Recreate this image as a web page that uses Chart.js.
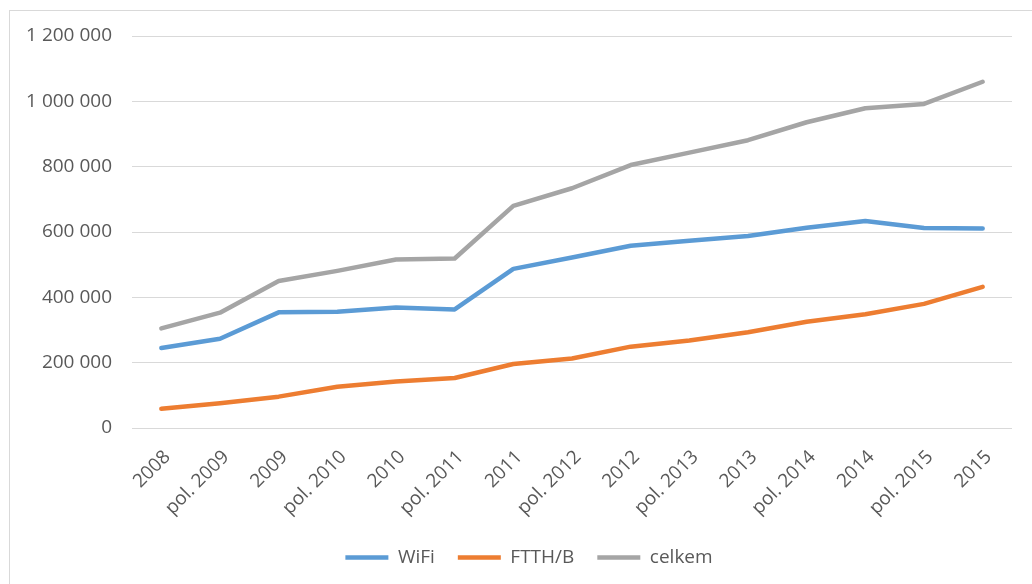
<!DOCTYPE html>
<html>
<head>
<meta charset="utf-8">
<script src="https://cdn.jsdelivr.net/npm/chart.js@4.4.1/dist/chart.umd.min.js"></script>
<style>
  body { margin: 0; background: #fff; }
  #wrap { position: relative; width: 1032px; height: 584px; overflow: hidden; }
  #frame { position: absolute; left: 9px; top: 10px; width: 1100px; height: 700px; border: 1px solid #d9d9d9; }
  #c { position: absolute; left: 0; top: 0; }
</style>
</head>
<body>
<div id="wrap">
  <div id="frame"></div>
  <canvas id="c" width="1032" height="584"></canvas>
</div>
<script>
// half-year and year-end points
const periods = ["2008", "pol. 2009", "2009", "pol. 2010", "2010", "pol. 2011", "2011", "pol. 2012",
                 "2012", "pol. 2013", "2013", "pol. 2014", "2014", "pol. 2015", "2015"];

const wifi = [245000, 273000, 354000, 356000, 369000, 363000, 487000, 522000,
              558000, 573000, 588000, 613000, 634000, 612000, 611000];
const ftth = [59000, 76000, 96000, 126000, 142000, 153000, 196000, 213000,
              249000, 268000, 293000, 325000, 348000, 380000, 432000];
const celkem = [305000, 353000, 450000, 481000, 516000, 519000, 680000, 734000,
                805000, 843000, 881000, 936000, 979000, 992000, 1060000];

const yMax = 1200000;
const yStep = 200000;

const textColor = "#595959";
const gridColor = "#d9d9d9";
const font = { family: "'Open Sans', sans-serif", size: 19 };

const plotLeft = 132;
const plotBottom = 428;
const padBottom = 7;
const legendShift = 23;

// 1 200 000 style thousands
function spaced(v) {
  return String(v).replace(/\B(?=(\d{3})+(?!\d))/g, " ");
}

function line(label, data, color) {
  return {
    label: label,
    data: data,
    borderColor: color,
    backgroundColor: color,
    borderWidth: 4.5,
    borderCapStyle: "round",
    borderJoinStyle: "round",
    pointRadius: 0,
    pointHoverRadius: 0,
    tension: 0,
    fill: false
  };
}

// centre the legend under the plot rather than the whole canvas
const legendNudge = {
  id: "legendNudge",
  afterLayout(chart) {
    if (chart.legend) {
      chart.legend.left += legendShift;
      chart.legend.right += legendShift;
    }
  }
};

new Chart(document.getElementById("c"), {
  type: "line",
  data: {
    labels: periods,
    datasets: [
      line("WiFi", wifi, "#5b9bd5"),
      line("FTTH/B", ftth, "#ed7d31"),
      line("celkem", celkem, "#a5a5a5")
    ]
  },
  plugins: [legendNudge],
  options: {
    responsive: false,
    animation: false,
    layout: { padding: { top: 36, right: 20, bottom: padBottom, left: 0 } },
    plugins: {
      tooltip: { enabled: false },
      legend: {
        position: "bottom",
        labels: {
          color: textColor,
          font: font,
          usePointStyle: true,
          pointStyle: "line",
          pointStyleWidth: 43,
          padding: 23
        }
      }
    },
    scales: {
      x: {
        offset: true,
        grid: { display: false },
        border: { display: false },
        ticks: {
          color: textColor,
          font: font,
          autoSkip: false,
          minRotation: 45,
          maxRotation: 45,
          padding: 10,
          labelOffset: 6
        },
        // fill the space between the plot bottom and the legend
        afterFit: function(scale) {
          const legendH = scale.chart.legend ? scale.chart.legend.height : 40;
          scale.height = scale.chart.height - padBottom - legendH - plotBottom;
        }
      },
      y: {
        min: 0,
        max: yMax,
        grid: { color: gridColor, lineWidth: 1, drawTicks: false },
        border: { display: false },
        ticks: {
          stepSize: yStep,
          color: textColor,
          font: font,
          padding: 20,
          callback: function(v) { return spaced(v); }
        },
        afterFit: function(scale) { scale.width = plotLeft; }
      }
    }
  }
});
</script>
</body>
</html>
